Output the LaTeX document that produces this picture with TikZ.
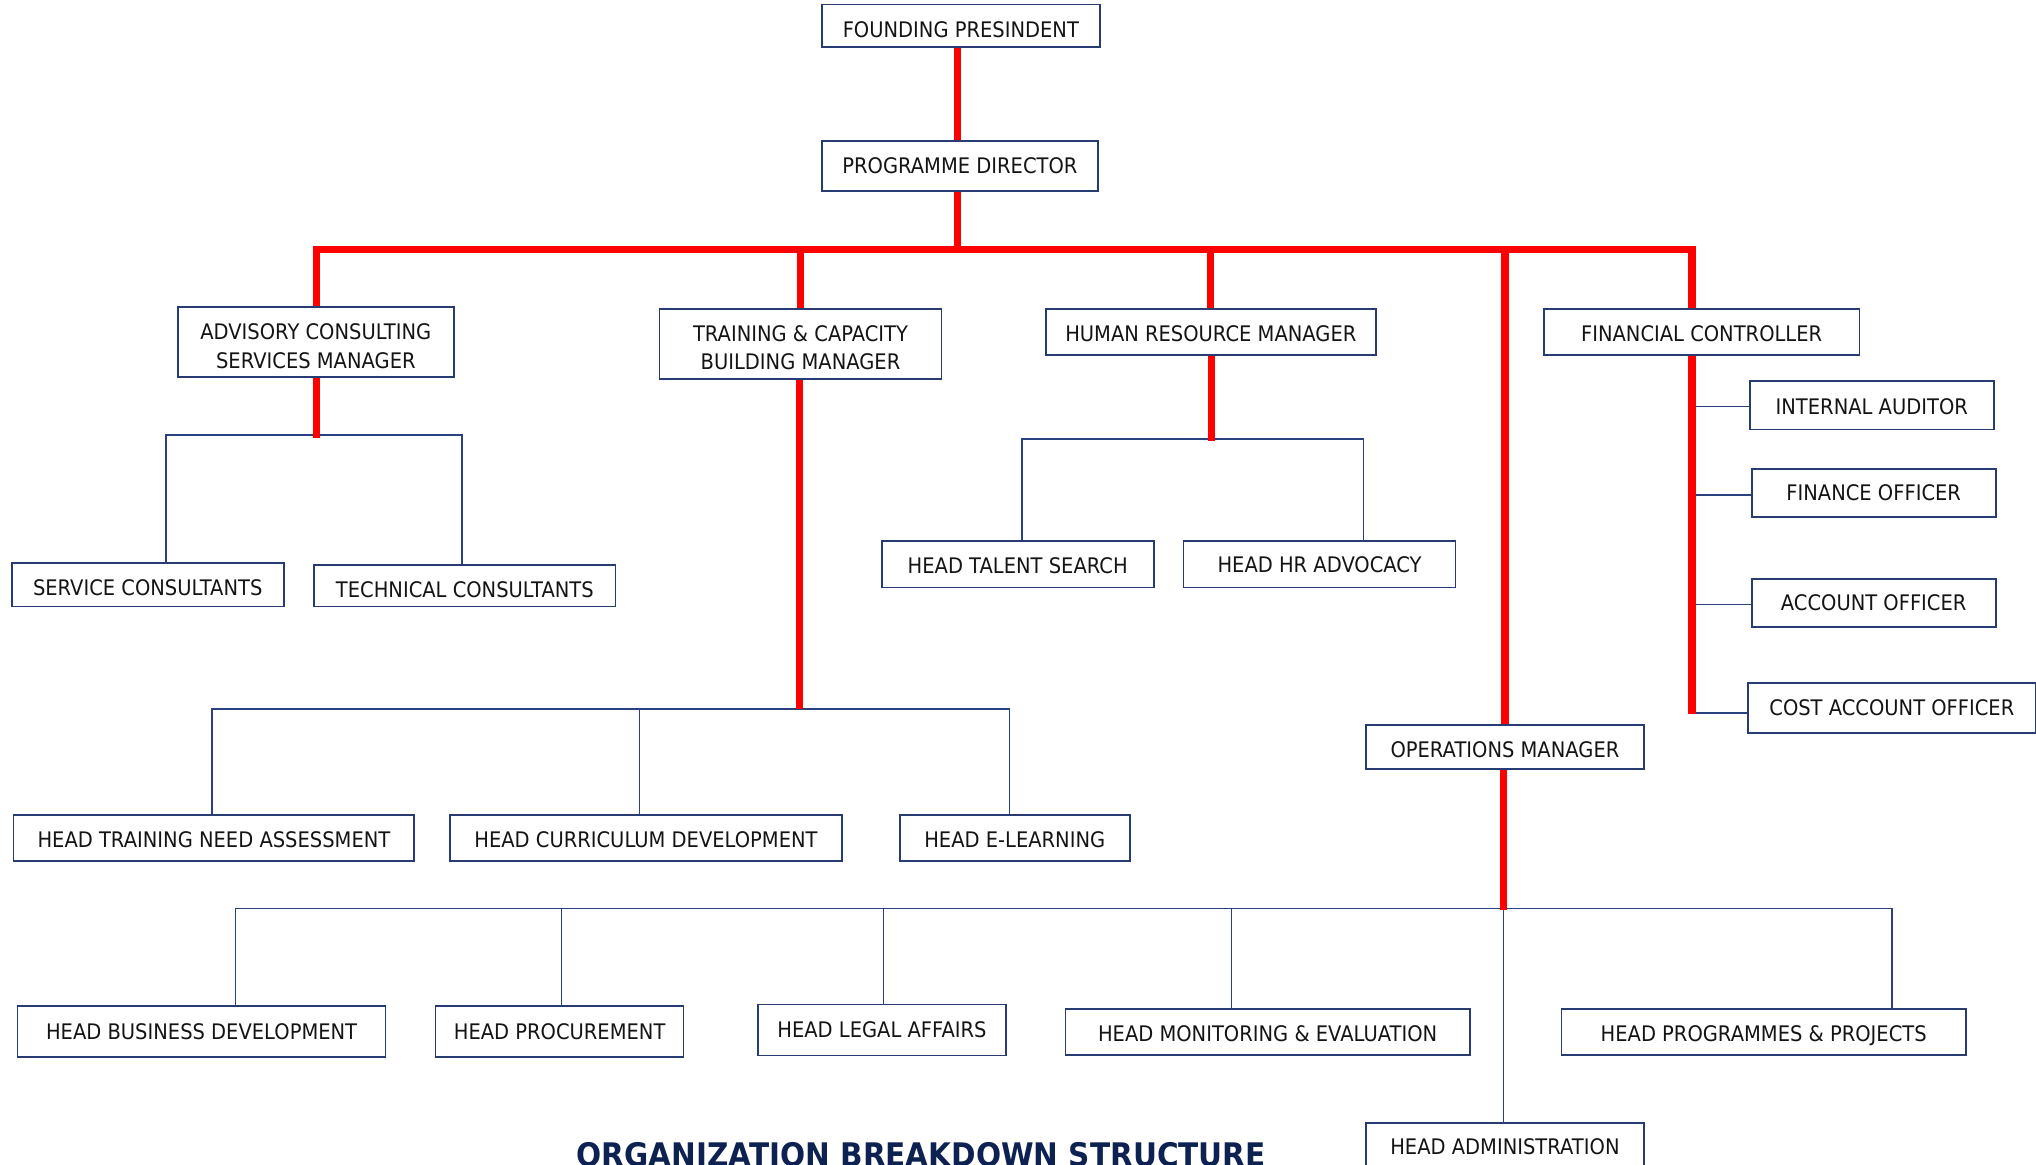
\documentclass[tikz,border=0pt]{standalone}
\usepackage{fontspec}
\setmainfont{DejaVu Sans}[FakeStretch=0.91]
\definecolor{boxc}{RGB}{40,60,115}
\definecolor{linec}{RGB}{42,64,128}
\definecolor{titlec}{RGB}{14,34,82}
\definecolor{redc}{RGB}{255,0,0}
\begin{document}
\begin{tikzpicture}[x=1pt,y=-1pt,
  box/.style={draw=boxc, line width=1.3pt, fill=white, inner sep=0pt, text=black!92,
    font=\fontsize{16.5}{22}\selectfont, align=center, text depth=0pt},
  th/.style={text height=#1},
  redl/.style={draw=redc, line width=5.5pt},
  bl/.style={draw=linec, line width=1.25pt},
  ttl/.style={font=\bfseries\fontsize{25}{30}\selectfont, text=titlec, anchor=base, inner sep=0pt}
]
\useasboundingbox (0,0) rectangle (1568,897);
\fill[white] (0,0) rectangle (1568,897);
\clip (0,0) rectangle (1568,897);

% boxes
\node[box, th=18pt, minimum width=214pt, minimum height=32.7pt] (fp) at (740,19.85) {FOUNDING PRESINDENT};
\node[box, th=12pt, minimum width=212.5pt, minimum height=38.5pt] (pd) at (739.25,127.75) {PROGRAMME DIRECTOR};
\node[box, th=40pt, minimum width=212.5pt, minimum height=54.3pt] (acs) at (243.25,263.45) {ADVISORY CONSULTING\\SERVICES MANAGER};
\node[box, th=40pt, minimum width=217pt, minimum height=54.2pt] (tcb) at (616.5,264.9) {TRAINING \& CAPACITY\\BUILDING MANAGER};
\node[box, th=14pt, minimum width=254pt, minimum height=35.7pt] (hrm) at (932.5,255.65) {HUMAN RESOURCE MANAGER};
\node[box, th=14pt, minimum width=243pt, minimum height=35.7pt] (fc) at (1310.5,255.65) {FINANCIAL CONTROLLER};
\node[box, th=17pt, minimum width=209.5pt, minimum height=33.5pt] (sc) at (113.75,450.25) {SERVICE CONSULTANTS};
\node[box, th=18pt, minimum width=232pt, minimum height=32pt] (tc) at (358,451) {TECHNICAL CONSULTANTS};
\node[box, th=14pt, minimum width=209.5pt, minimum height=36pt] (hts) at (783.75,434.4) {HEAD TALENT SEARCH};
\node[box, th=13pt, minimum width=209.5pt, minimum height=36pt] (hhr) at (1016.25,434.4) {HEAD HR ADVOCACY};
\node[box, th=14pt, minimum width=188pt, minimum height=37.5pt] (ia) at (1441.5,311.95) {INTERNAL AUDITOR};
\node[box, th=12pt, minimum width=188pt, minimum height=37.4pt] (fo) at (1443,379.7) {FINANCE OFFICER};
\node[box, th=12pt, minimum width=188pt, minimum height=36.8pt] (ao) at (1443,464.4) {ACCOUNT OFFICER};
\node[box, th=12pt, minimum width=222pt, minimum height=38.4pt] (cao) at (1457,545.2) {COST ACCOUNT OFFICER};
\node[box, th=16pt, minimum width=214pt, minimum height=34.1pt] (ops) at (1159,575.35) {OPERATIONS MANAGER};
\node[box, th=14pt, minimum width=308.5pt, minimum height=35.3pt] (htna) at (164.75,645.35) {HEAD TRAINING NEED ASSESSMENT};
\node[box, th=14pt, minimum width=302pt, minimum height=35.3pt] (hcd) at (497.5,645.35) {HEAD CURRICULUM DEVELOPMENT};
\node[box, th=14pt, minimum width=177pt, minimum height=35.3pt] (hel) at (781.5,645.35) {HEAD E-LEARNING};
\node[box, th=12pt, minimum width=283.5pt, minimum height=39pt] (hbd) at (155.25,794.5) {HEAD BUSINESS DEVELOPMENT};
\node[box, th=12pt, minimum width=191pt, minimum height=39pt] (hp) at (431,794.5) {HEAD PROCUREMENT};
\node[box, th=12pt, minimum width=191.5pt, minimum height=39.2pt] (hla) at (679.25,793.2) {HEAD LEGAL AFFAIRS};
\node[box, th=14pt, minimum width=311.5pt, minimum height=35.5pt] (hme) at (976.25,794.75) {HEAD MONITORING \& EVALUATION};
\node[box, th=14pt, minimum width=311.5pt, minimum height=35.5pt] (hpp) at (1358.25,794.75) {HEAD PROGRAMMES \& PROJECTS};
\node[box, th=12pt, minimum width=214pt, minimum height=36.8pt] (had) at (1159,883) {HEAD ADMINISTRATION};

\node[ttl] (title) at (709.5,898) {ORGANIZATION BREAKDOWN STRUCTURE};

% junction coordinates
\coordinate (trunk) at (737.5,192);
\coordinate (barL) at (243.5,192);
\coordinate (barR) at (1303,192);
\coordinate (acsj) at (243.5,337.5);
\coordinate (scL) at (128,335);
\coordinate (scR) at (356,335);
\coordinate (tcbj) at (616,545.8);
\coordinate (tL) at (163.5,545.8);
\coordinate (tM) at (492.5,545.8);
\coordinate (tR) at (777.5,545.8);
\coordinate (hrj) at (933,339.5);
\coordinate (hL) at (787,338.3);
\coordinate (hR) at (1050,338.3);
\coordinate (fcb) at (1303,550);
\coordinate (iaj) at (1303,313);
\coordinate (foj) at (1303,381);
\coordinate (aoj) at (1303,465.6);
\coordinate (caoj) at (1303,549);
\coordinate (opsj) at (1158,701);
\coordinate (oL) at (181.5,699.8);
\coordinate (oR) at (1457,699.8);
\coordinate (o2) at (432.5,699.8);
\coordinate (o3) at (680.5,699.8);
\coordinate (o4) at (948.5,699.8);
\coordinate (o5) at (1158,699.8);

% thin blue connectors
\draw[bl] (sc.north -| scL) -- (scL) -- (scR) -- (tc.north -| scR);
\draw[bl] (htna.north -| tL) -- (tL) -- (tR) -- (hel.north -| tR);
\draw[bl] (tM) -- (hcd.north -| tM);
\draw[bl] (hts.north -| hL) -- (hL) -- (hR) -- (hhr.north -| hR);
\draw[bl] (iaj) -- (ia.west |- iaj);
\draw[bl] (foj) -- (fo.west |- foj);
\draw[bl] (aoj) -- (ao.west |- aoj);
\draw[bl] (caoj) -- (cao.west |- caoj);
\draw[bl] (hbd.north -| oL) -- (oL) -- (oR) -- (hpp.north -| oR);
\draw[bl] (o2) -- (hp.north -| o2);
\draw[bl] (o3) -- (hla.north -| o3);
\draw[bl] (o4) -- (hme.north -| o4);
\draw[bl] (o5) -- (had.north -| o5);

% red connectors
\draw[redl] (fp.south -| trunk) -- (pd.north -| trunk);
\draw[redl] (pd.south -| trunk) -- (trunk);
\draw[redl, line join=miter] (acs.north -| barL) -- (barL) -- (barR) -- (fc.north -| barR);
\draw[redl] (tcb.north) -- (tcb.north |- barL);
\draw[redl] (hrm.north) -- (hrm.north |- barL);
\draw[redl] (ops.north) -- (ops.north |- barL);
\draw[redl] (acs.south -| acsj) -- (acsj);
\draw[redl] (tcb.south -| tcbj) -- (tcbj);
\draw[redl] (hrm.south -| hrj) -- (hrj);
\draw[redl] (fc.south -| fcb) -- (fcb);
\draw[redl] (ops.south -| opsj) -- (opsj);
\end{tikzpicture}
\end{document}
